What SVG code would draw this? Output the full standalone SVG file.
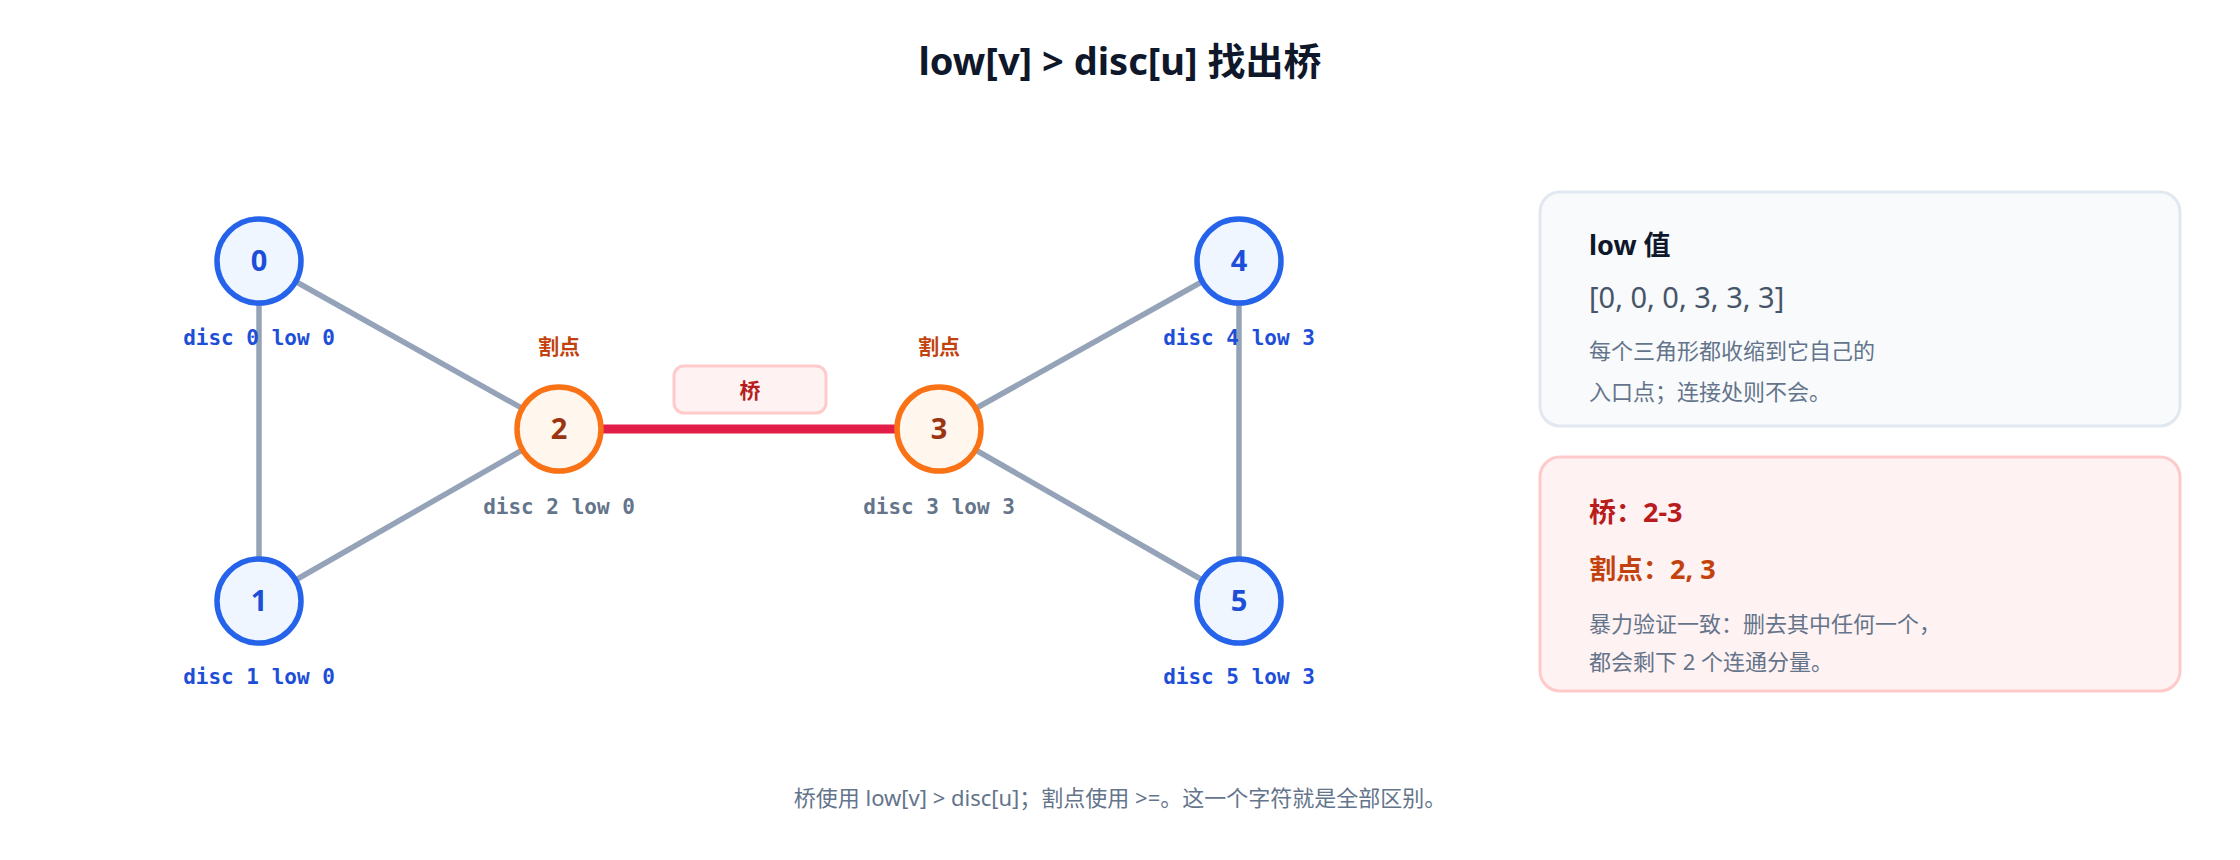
<svg xmlns="http://www.w3.org/2000/svg" width="2240" height="860" viewBox="0 0 2240 860">
<style>
text{font-family:"Noto Sans","Noto Sans CJK SC",sans-serif}
.edge{stroke:#94a3b8;stroke-width:5.5;fill:none}
.bridge{stroke:#e11d48;stroke-width:9;fill:none}
.nb circle{fill:#eff6ff;stroke:#2563eb;stroke-width:5.5}
.nb text{fill:#1d4ed8}
.no circle{fill:#fff7ed;stroke:#f97316;stroke-width:5.5}
.no text.n{fill:#9a3412}
.n{font-size:29px;font-weight:700;text-anchor:middle}
.lab{font-family:"DejaVu Sans Mono","Noto Sans CJK SC",monospace;font-size:21px;font-weight:700;fill:#64748b;text-anchor:middle}
.cut{font-size:21px;font-weight:700;fill:#c2410c;text-anchor:middle}
.desc{font-size:22px;fill:#64748b}
</style>
<rect width="2240" height="860" fill="#ffffff"/>
<text x="1120" y="75" font-size="38" font-weight="700" fill="#0f172a" text-anchor="middle">low[v] &gt; disc[u] 找出桥</text>
<g id="connectors">
<line class="edge" x1="259" y1="261" x2="259" y2="601"/>
<line class="edge" x1="259" y1="261" x2="559" y2="429"/>
<line class="edge" x1="259" y1="601" x2="559" y2="429"/>
<line class="edge" x1="939" y1="429" x2="1239" y2="261"/>
<line class="edge" x1="939" y1="429" x2="1239" y2="601"/>
<line class="edge" x1="1239" y1="261" x2="1239" y2="601"/>
<line class="bridge" x1="559" y1="429" x2="939" y2="429"/>
<rect x="674" y="366" width="152" height="47" rx="10" fill="#fef2f2" stroke="#fecaca" stroke-width="3"/>
<text x="750" y="398" font-size="21" font-weight="700" fill="#b91c1c" text-anchor="middle">桥</text>
</g>
<g id="node0" class="nb"><circle cx="259" cy="261" r="42"/><text class="n" x="259" y="271">0</text><text class="lab" x="259" y="345">disc 0  low 0</text></g>
<g id="node1" class="nb"><circle cx="259" cy="601" r="42"/><text class="n" x="259" y="611">1</text><text class="lab" x="259" y="684">disc 1  low 0</text></g>
<g id="node2" class="no"><circle cx="559" cy="429" r="42"/><text class="n" x="559" y="439">2</text><text class="cut" x="559" y="354">割点</text><text class="lab" x="559" y="514">disc 2  low 0</text></g>
<g id="node3" class="no"><circle cx="939" cy="429" r="42"/><text class="n" x="939" y="439">3</text><text class="cut" x="939" y="354">割点</text><text class="lab" x="939" y="514">disc 3  low 3</text></g>
<g id="node4" class="nb"><circle cx="1239" cy="261" r="42"/><text class="n" x="1239" y="271">4</text><text class="lab" x="1239" y="345">disc 4  low 3</text></g>
<g id="node5" class="nb"><circle cx="1239" cy="601" r="42"/><text class="n" x="1239" y="611">5</text><text class="lab" x="1239" y="684">disc 5  low 3</text></g>
<g id="panel-low">
<rect x="1540" y="192" width="640" height="234" rx="20" fill="#f8fafc" stroke="#e2e8f0" stroke-width="3"/>
<text x="1589" y="255" font-size="27" font-weight="700" fill="#0f172a">low 值</text>
<text x="1589" y="308" font-family="DejaVu Sans Mono,monospace" font-size="29" fill="#475569">[0, 0, 0, 3, 3, 3]</text>
<text class="desc" x="1589" y="359">每个三角形都收缩到它自己的</text>
<text class="desc" x="1589" y="400">入口点；连接处则不会。</text>
</g>
<g id="panel-result">
<rect x="1540" y="457" width="640" height="234" rx="20" fill="#fef2f2" stroke="#fecaca" stroke-width="3"/>
<text x="1589" y="522" font-size="27" font-weight="700" fill="#b91c1c">桥：2-3</text>
<text x="1589" y="579" font-size="27" font-weight="700" fill="#c2410c">割点：2, 3</text>
<text class="desc" x="1589" y="632">暴力验证一致：删去其中任何一个，</text>
<text class="desc" x="1589" y="670">都会剩下 2 个连通分量。</text>
</g>
<text class="desc" x="1120" y="806" text-anchor="middle">桥使用 low[v] &gt; disc[u]；割点使用 &gt;=。这一个字符就是全部区别。</text>
</svg>
